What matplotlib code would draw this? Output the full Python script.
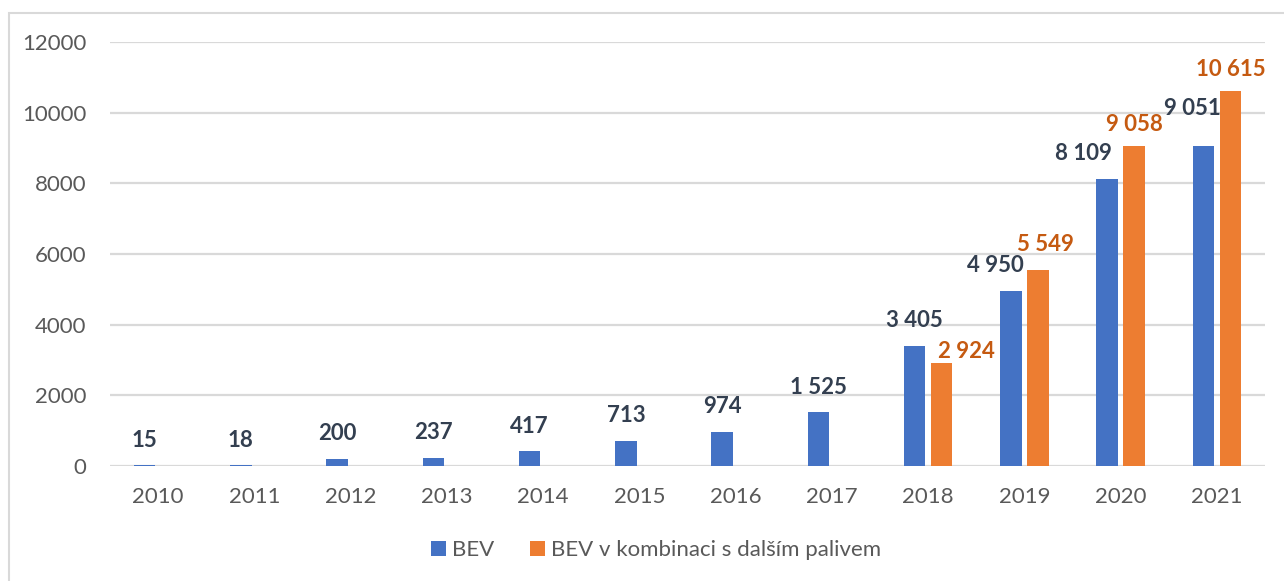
import matplotlib
matplotlib.use("Agg")
import matplotlib.pyplot as plt
from matplotlib.patches import Patch, Rectangle
import numpy as np

plt.rcParams['font.family'] = ['Lato', 'DejaVu Sans']

years = ["2010", "2011", "2012", "2013", "2014", "2015", "2016", "2017", "2018", "2019", "2020", "2021"]
bev = [15, 18, 200, 237, 417, 713, 974, 1525, 3405, 4950, 8109, 9051]
bev_comb = [0, 0, 0, 0, 0, 0, 0, 0, 2924, 5549, 9058, 10615]
bev_labels = ["15", "18", "200", "237", "417", "713", "974", "1 525", "3 405", "4 950", "8 109", "9 051"]
comb_labels = ["", "", "", "", "", "", "", "", "2 924", "5 549", "9 058", "10 615"]
series_names = ["BEV", "BEV v kombinaci s dalším palivem"]
yticks = [0, 2000, 4000, 6000, 8000, 10000, 12000]

# label offsets (pixels) relative to bar top, mimicking the reference placement
bev_off = [(0, 25)] * 9 + [(-16, 26), (-24, 26), (-11, 38)]
comb_off = [(0, 0)] * 8 + [(25, 11), (8, 25), (0, 21), (0, 21)]

c_blue = "#4472C4"
c_orange = "#ED7D31"
c_blue_lab = "#333F50"
c_orange_lab = "#C55A11"
c_grid = "#D9D9D9"
c_text = "#595959"

W, H = 1284, 581
fig = plt.figure(figsize=(W / 100, H / 100), dpi=100)
ax = fig.add_axes([110 / W, 1 - 466 / H, (1265 - 110) / W, (466 - 42) / H])

x = np.arange(len(years))
bw = 0.223
off = 0.14
ax.bar(x - off, bev, bw, color=c_blue, zorder=3)
ax.bar(x + off, bev_comb, bw, color=c_orange, zorder=3)

for xi, v, lab, (dx, dy) in zip(x, bev, bev_labels, bev_off):
    ax.annotate(lab, (xi - off, v), xytext=(dx, dy), textcoords="offset pixels",
                ha="center", va="center", fontsize=16, fontweight="bold", color=c_blue_lab)
for xi, v, lab, (dx, dy) in zip(x, bev_comb, comb_labels, comb_off):
    if lab:
        ax.annotate(lab, (xi + off, v), xytext=(dx, dy), textcoords="offset pixels",
                    ha="center", va="center", fontsize=16, fontweight="bold", color=c_orange_lab)

ax.set_xlim(-0.5, len(years) - 0.5)
ax.set_ylim(0, 12000)
ax.set_yticks(yticks)
ax.set_yticklabels([str(t) for t in yticks])
ax.set_xticks(x)
ax.set_xticklabels(years)
ax.tick_params(axis="both", length=0, labelsize=16, labelcolor=c_text)
ax.tick_params(axis="x", pad=15)
ax.tick_params(axis="y", pad=17)
ax.grid(axis="y", color=c_grid, linewidth=1.6, zorder=0)
for s in ax.spines.values():
    s.set_visible(False)

handles = [Patch(facecolor=c_blue, edgecolor="none"), Patch(facecolor=c_orange, edgecolor="none")]
fig.legend(handles, series_names, loc="center", bbox_to_anchor=(656 / W, 1 - 550 / H), ncol=2,
           frameon=False, fontsize=16, labelcolor=c_text, handlelength=0.64, handleheight=0.64,
           handletextpad=0.27, columnspacing=1.64)

# outer chart border
fig.patches.append(Rectangle((9 / W, -0.1), 1.2, 1 - 13 / H + 0.1, transform=fig.transFigure,
                             fill=False, edgecolor=c_grid, linewidth=1.5))

fig.savefig("out.png", dpi=100, facecolor="white")
